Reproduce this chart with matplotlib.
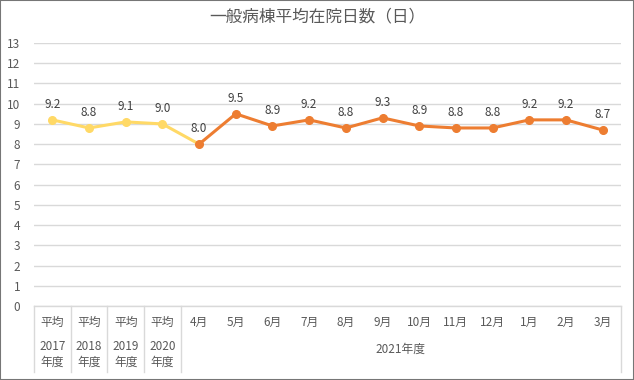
import matplotlib
matplotlib.use("Agg")
import matplotlib.pyplot as plt
from matplotlib.patches import Rectangle
from matplotlib.lines import Line2D
import numpy as np

plt.rcParams["font.family"] = ["Noto Sans CJK JP", "DejaVu Sans"]

# ── Data ───────────────────────────────────────────────
avg_labels = ["平均", "平均", "平均", "平均"]
avg_years = ["2017", "2018", "2019", "2020"]
year_suffix = "年度"
avg_values = [9.2, 8.8, 9.1, 9.0]
months = ["4月", "5月", "6月", "7月", "8月", "9月", "10月", "11月", "12月", "1月", "2月", "3月"]
month_values = [8.0, 9.5, 8.9, 9.2, 8.8, 9.3, 8.9, 8.8, 8.8, 9.2, 9.2, 8.7]
month_group = "2021年度"
yticks = list(range(0, 14))

YELLOW = "#FFD966"
ORANGE = "#ED7D31"
GRID = "#D9D9D9"
TXT = "#595959"
FS = 8.5

W, H = 634, 380
fig = plt.figure(figsize=(W / 100, H / 100), dpi=100)
L, R, T, B = 34, 621, 43, 306
ax = fig.add_axes([L / W, 1 - B / H, (R - L) / W, (B - T) / H])

n_avg = len(avg_values)
n = n_avg + len(months)
x_avg = np.arange(n_avg)
x_mon = np.arange(n_avg, n)

ax.set_xlim(-0.5, n - 0.5)
ax.set_ylim(0, 13)
ax.set_yticks(yticks)
ax.set_yticklabels([str(v) for v in yticks])
ax.tick_params(axis="y", length=0, labelsize=FS, labelcolor=TXT, pad=10)
ax.set_xticks([])
ax.grid(axis="y", color=GRID, lw=1)
ax.set_axisbelow(True)
for s in ax.spines.values():
    s.set_visible(False)

# yellow line includes the link to first month
yx = np.append(x_avg, x_mon[0])
yv = avg_values + [month_values[0]]
ax.plot(yx, yv, color=YELLOW, lw=2.2, marker="o", ms=5.5, markevery=list(range(n_avg)), zorder=3)
ax.plot(x_mon, month_values, color=ORANGE, lw=2.2, marker="o", ms=5.5, zorder=4)

for xi, v in zip(list(x_avg) + list(x_mon), avg_values + month_values):
    ax.annotate(f"{v:.1f}", (xi, v), xytext=(0, 11), textcoords="offset points",
                ha="center", va="center", fontsize=FS, color="#404040")

# ── Category axis (multi-level) ──────────────────────
def ay(py):
    return (B - py) / (B - T)

xt = ax.get_xaxis_transform()
ax.add_line(Line2D([-0.5, n - 0.5], [0, 0], transform=xt, color=GRID, lw=1, clip_on=False))
for b in [-0.5, 0.5, 1.5, 2.5, 3.5, n - 0.5]:
    ax.add_line(Line2D([b, b], [0, ay(372)], transform=xt, color=GRID, lw=1, clip_on=False))

for xi, lab in zip(x_avg, avg_labels):
    ax.text(xi, ay(322), lab, transform=xt, ha="center", va="center", fontsize=FS, color=TXT)
for xi, lab in zip(x_avg, avg_years):
    ax.text(xi, ay(347), lab, transform=xt, ha="center", va="center", fontsize=FS, color=TXT)
    ax.text(xi, ay(362), year_suffix, transform=xt, ha="center", va="center", fontsize=FS, color=TXT)
for xi, lab in zip(x_mon, months):
    ax.text(xi, ay(322), lab, transform=xt, ha="center", va="center", fontsize=FS, color=TXT)
ax.text((x_mon[0] + x_mon[-1]) / 2, ay(349), month_group, transform=xt,
        ha="center", va="center", fontsize=FS, color=TXT)

fig.text(0.5, 1 - 17 / H, "一般病棟平均在院日数（日）", ha="center", va="center",
         fontsize=12, color=TXT)

fig.patches.append(Rectangle((0, 0), 1, 1, transform=fig.transFigure, fill=False,
                             edgecolor="#767676", lw=1.5))

fig.savefig("out.png", dpi=100, facecolor="white")
plt.close(fig)
